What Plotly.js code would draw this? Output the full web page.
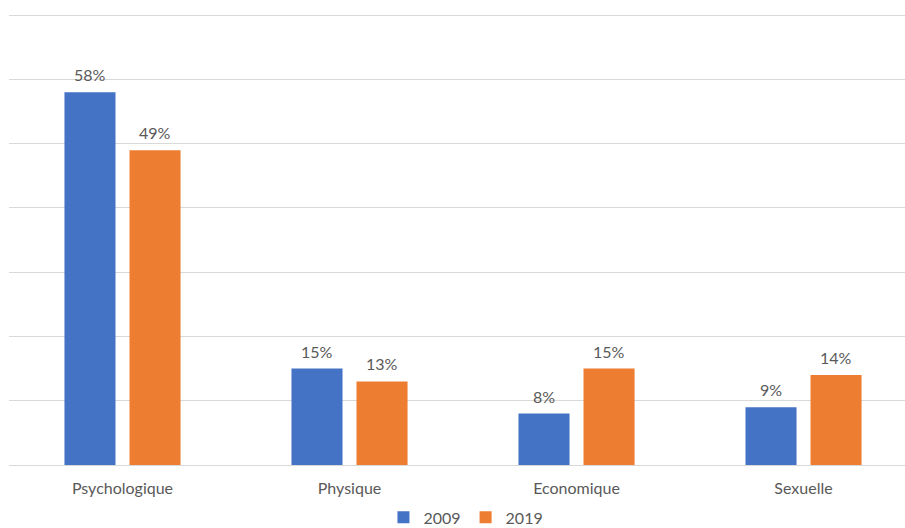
<!DOCTYPE html>
<html>
<head>
<meta charset="utf-8">
<script src="https://cdn.plot.ly/plotly-3.0.1.min.js"></script>
<style>
  html, body { margin: 0; padding: 0; background: #ffffff; }
  #chart { width: 905px; height: 528px; }
</style>
</head>
<body>
<div id="chart"></div>
<script>
// Types de violence, part des cas en 2009 et en 2019 (%)
const categories = ["Psychologique", "Physique", "Economique", "Sexuelle"];
const values2009 = [58, 15, 8, 9];
const values2019 = [49, 13, 15, 14];
const seriesNames = ["2009", "2019"];
const seriesColors = ["#4472C4", "#ED7D31"];

const textColor = "#595959";
const fontFamily = "Lato, 'Open Sans', sans-serif";

function barTrace(name, values, color) {
  return {
    type: "bar",
    name: name,
    x: categories,
    y: values,
    marker: { color: color },
    hoverinfo: "x+y+name"
  };
}

const data = [
  barTrace(seriesNames[0], values2009, seriesColors[0]),
  barTrace(seriesNames[1], values2019, seriesColors[1])
];

// Value labels above each bar, shifted sideways onto their bar of the group
const barShift = 32.5;
const annotations = [];
[values2009, values2019].forEach((vals, s) => {
  vals.forEach((v, i) => {
    annotations.push({
      x: categories[i],
      y: v,
      xref: "x",
      yref: "y",
      text: v + "%",
      showarrow: false,
      xshift: s === 0 ? -barShift : barShift,
      yanchor: "bottom",
      yshift: 6,
      font: { family: fontFamily, size: 16, color: textColor }
    });
  });
});

const layout = {
  width: 905,
  height: 528,
  margin: { l: 9, r: 0, t: 12, b: 63 },
  paper_bgcolor: "#ffffff",
  plot_bgcolor: "#ffffff",
  barmode: "group",
  bargap: 0.427,
  bargroupgap: 0.215,
  font: { family: fontFamily, size: 16, color: textColor },
  xaxis: {
    type: "category",
    range: [-0.5, 3.447],
    showgrid: false,
    showline: false,
    ticks: "",
    ticklabelstandoff: 12,
    tickfont: { family: fontFamily, size: 16, color: textColor },
    fixedrange: true
  },
  yaxis: {
    range: [0, 70.5],
    tickvals: [10, 20, 30, 40, 50, 60, 70],
    showticklabels: false,
    showgrid: true,
    gridcolor: "#d9d9d9",
    gridwidth: 1,
    zeroline: true,
    zerolinecolor: "#d9d9d9",
    zerolinewidth: 1,
    ticks: "",
    fixedrange: true
  },
  annotations: annotations,
  showlegend: true,
  legend: {
    orientation: "h",
    x: 0.51,
    xanchor: "center",
    xref: "paper",
    yref: "container",
    y: 0.02,
    yanchor: "middle",
    font: { family: fontFamily, size: 16, color: textColor },
    itemwidth: 30,
    tracegroupgap: 0,
    traceorder: "normal"
  }
};

Plotly.newPlot("chart", data, layout, { displayModeBar: false, staticPlot: true });
</script>
</body>
</html>
